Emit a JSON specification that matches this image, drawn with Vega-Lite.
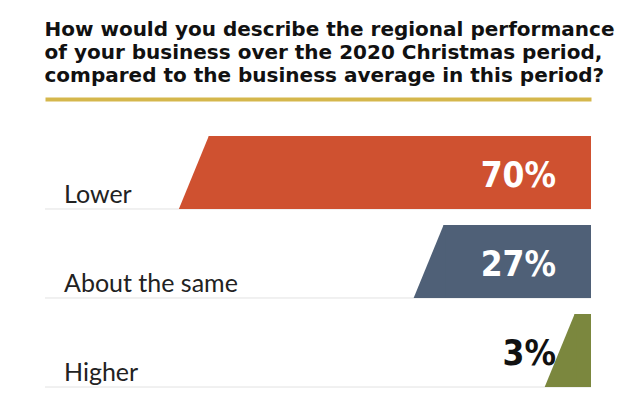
{
  "$schema": "https://vega.github.io/schema/vega-lite/v6.json",
  "width": 546,
  "height": 251,
  "padding": {"left": 44, "top": 20, "right": 39, "bottom": 10},
  "background": "white",
  "config": {"view": {"stroke": null}},
  "title": {
    "text": ["How would you describe the regional performance", "of your business over the 2020 Christmas period,", "compared to the business average in this period?"],
    "anchor": "start",
    "font": "DejaVu Sans",
    "fontSize": 20,
    "fontWeight": "bold",
    "color": "#111111",
    "lineHeight": 23,
    "offset": 13
  },
  "data": {"values": [
    {"category": "Lower", "share": 0.70},
    {"category": "About the same", "share": 0.27},
    {"category": "Higher", "share": 0.03}
  ]},
  "layer": [
    {
      "mark": {"type": "rule", "color": "#e2e2e2", "strokeWidth": 1},
      "encoding": {
        "x": {"datum": 1, "type": "quantitative", "scale": {"domain": [0, 1], "reverse": true},
              "axis": {"orient": "top", "offset": 37, "domainColor": "#d5b74c", "domainWidth": 4, "ticks": false, "labels": false, "title": null, "grid": false}},
        "x2": {"datum": 0},
        "y": {"field": "category", "type": "nominal", "sort": null, "bandPosition": 1, "scale": {"paddingInner": 0.18, "paddingOuter": 0}, "axis": null}
      }
    },
    {
      "mark": {"type": "bar", "cornerRadius": 0},
      "encoding": {
        "x": {"field": "share", "type": "quantitative"},
        "x2": {"datum": 0},
        "y": {"field": "category", "type": "nominal", "sort": null},
        "color": {"field": "category", "type": "nominal", "sort": null, "legend": null,
                  "scale": {"domain": ["Lower", "About the same", "Higher"], "range": ["#cf5130", "#4f6077", "#7b873e"]}}
      }
    },
    {
      "mark": {"type": "point", "filled": true, "opacity": 1, "strokeWidth": 0, "shape": "M0.06,-1L0.06,1L-0.82,1L0,-1Z", "size": 5329},
      "encoding": {
        "x": {"field": "share", "type": "quantitative"},
        "y": {"field": "category", "type": "nominal", "sort": null},
        "color": {"field": "category", "type": "nominal", "sort": null, "legend": null}
      }
    },
    {
      "mark": {"type": "text", "align": "left", "baseline": "alphabetic", "dx": 19, "dy": -6, "font": "Lato", "fontSize": 25, "color": "#222222"},
      "encoding": {
        "x": {"datum": 1, "type": "quantitative"},
        "y": {"field": "category", "type": "nominal", "sort": null, "bandPosition": 1},
        "text": {"field": "category", "type": "nominal"}
      }
    },
    {
      "mark": {"type": "text", "align": "right", "baseline": "alphabetic", "dx": -35, "dy": -22, "font": "DejaVu Sans Condensed", "fontWeight": "bold", "fontSize": 35},
      "encoding": {
        "x": {"datum": 0, "type": "quantitative"},
        "y": {"field": "category", "type": "nominal", "sort": null, "bandPosition": 1},
        "text": {"field": "share", "type": "quantitative", "format": ".0%"},
        "color": {"condition": {"test": "datum.share < 0.1", "value": "#111111"}, "value": "#ffffff"}
      }
    }
  ]
}
